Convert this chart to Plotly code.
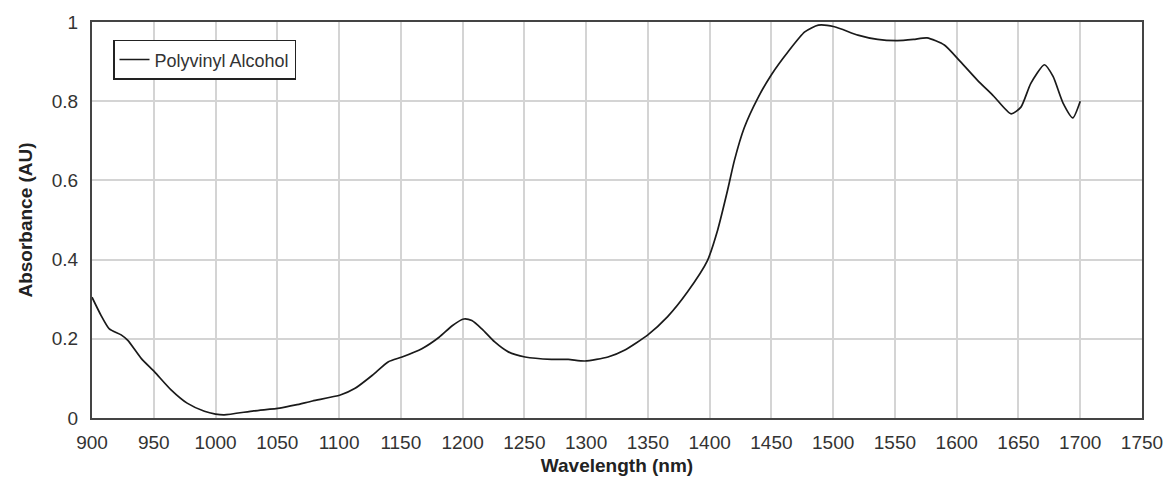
import plotly.graph_objects as go

wavelength = [900, 907.5, 914, 923.6, 929, 940, 950.5, 964, 977, 991, 1000, 1007, 1031, 1052, 1065, 1078.5,
              1101, 1113, 1127, 1140, 1151, 1167, 1181, 1191.6, 1201, 1207.5, 1215.6, 1226, 1237, 1250.6,
              1272, 1285.5, 1299, 1317.7, 1331, 1350, 1366, 1382, 1398, 1406.5, 1414.5, 1420, 1428, 1439,
              1450, 1463.5, 1477, 1488, 1501, 1520, 1536, 1552, 1565, 1576, 1590, 1603, 1616.5, 1630,
              1644, 1652, 1660, 1671, 1678, 1686, 1694, 1700]
absorbance = [0.305, 0.258, 0.225, 0.21, 0.196, 0.15, 0.117, 0.071, 0.0375, 0.017, 0.01, 0.008, 0.018, 0.025,
              0.033, 0.043, 0.058, 0.075, 0.108, 0.142, 0.154, 0.175, 0.204, 0.233, 0.25, 0.246, 0.225, 0.192,
              0.167, 0.154, 0.148, 0.148, 0.144, 0.154, 0.171, 0.21, 0.256, 0.318, 0.396, 0.475, 0.575, 0.65,
              0.733, 0.808, 0.867, 0.925, 0.975, 0.992, 0.988, 0.967, 0.956, 0.953, 0.956, 0.96, 0.942, 0.9,
              0.854, 0.8125, 0.768, 0.785, 0.845, 0.892, 0.8625, 0.796, 0.758, 0.80]

series_name = "Polyvinyl Alcohol"
x_ticks = list(range(900, 1751, 50))
y_ticks = [0, 0.2, 0.4, 0.6, 0.8, 1]
y_tick_labels = ["0", "0.2", "0.4", "0.6", "0.8", "1"]

fig = go.Figure()
fig.add_trace(go.Scatter(
    x=wavelength, y=absorbance, mode="lines", name=series_name,
    line=dict(color="#1a1a1a", width=1.7, shape="spline", smoothing=0.6),
    showlegend=True,
))

fig.update_layout(
    width=1175, height=485,
    margin=dict(l=92, r=29, t=20, b=65),
    paper_bgcolor="white", plot_bgcolor="white",
    font=dict(family="Liberation Sans, Arial, sans-serif", color="#222"),
    showlegend=True,
    legend=dict(
        x=0.02, y=0.955, xanchor="left", yanchor="top",
        bordercolor="#222", borderwidth=1.5, bgcolor="white",
        font=dict(size=18, color="#333"),
    ),
    xaxis=dict(
        range=[900, 1750], tickvals=x_ticks, ticktext=[str(v) for v in x_ticks],
        showgrid=True, gridcolor="#d4d4d4", gridwidth=1.5,
        showline=True, linecolor="#444", linewidth=2, mirror=True,
        ticks="", tickfont=dict(size=19, color="#333"), ticklabelstandoff=6,
        title=dict(text="<b>Wavelength (nm)</b>", font=dict(size=19, color="#222"), standoff=7),
        zeroline=False,
    ),
    yaxis=dict(
        range=[0, 1], tickvals=y_ticks, ticktext=y_tick_labels,
        showgrid=True, gridcolor="#d4d4d4", gridwidth=1.5,
        showline=True, linecolor="#444", linewidth=2, mirror=True,
        ticks="", tickfont=dict(size=19, color="#333"), ticklabelstandoff=8,
        title=dict(text="<b>Absorbance (AU)</b>", font=dict(size=19, color="#222"), standoff=14),
        zeroline=False,
    ),
)

fig.write_html("out.html")
